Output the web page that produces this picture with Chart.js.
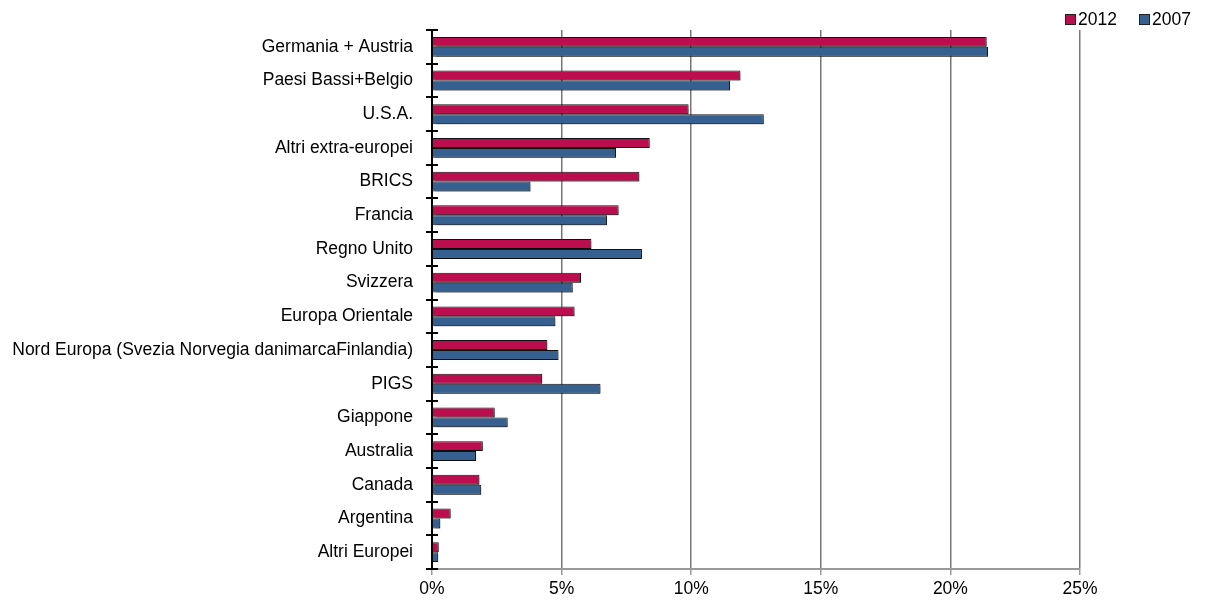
<!DOCTYPE html>
<html>
<head>
<meta charset="utf-8">
<script src="https://cdn.jsdelivr.net/npm/chart.js@4"></script>
<style>
  html, body { margin: 0; padding: 0; background: #fff; }
  #wrap { position: relative; width: 1208px; height: 607px; }
  #legend { position: absolute; top: 9px; left: 1065px; display: flex; gap: 22px;
    font-family: "Liberation Sans", Arial, sans-serif; font-size: 17.5px; color: #000; }
  #legend span.item { display: flex; align-items: center; }
  #legend span.box { display: inline-block; width: 9px; height: 9px; border: 1px solid #222; margin-right: 2px; }
</style>
</head>
<body>
<div id="wrap">
  <canvas id="chart" width="1208" height="607"></canvas>
  <div id="legend"></div>
</div>
<script>
// Data
const categories = [
    'Germania + Austria', 'Paesi Bassi+Belgio', 'U.S.A.', 'Altri extra-europei', 'BRICS',
    'Francia', 'Regno Unito', 'Svizzera', 'Europa Orientale',
    'Nord Europa (Svezia Norvegia danimarcaFinlandia)', 'PIGS', 'Giappone', 'Australia',
    'Canada', 'Argentina', 'Altri Europei'
];
const values2012 = [21.4, 11.9, 9.9, 8.4, 8.0, 7.2, 6.15, 5.75, 5.5, 4.45, 4.25, 2.42, 1.96, 1.83, 0.72, 0.26];
const values2007 = [21.45, 11.5, 12.8, 7.1, 3.8, 6.75, 8.1, 5.43, 4.76, 4.88, 6.5, 2.92, 1.7, 1.9, 0.32, 0.24];
const seriesNames = ['2012', '2007'];
const seriesColors = ['#bc0d4e', '#35608f'];
const xTicks = [0, 5, 10, 15, 20, 25];

const labelFont = { family: '"Liberation Sans", Arial, sans-serif', size: 17.5 };

// Legend (HTML)
const legendEl = document.getElementById('legend');
seriesNames.forEach((name, i) => {
    legendEl.innerHTML += `<span class="item"><span class="box" style="background:${seriesColors[i]}"></span>${name}</span>`;
});

// Bar shadow + inner half of the category tick marks
const extrasPlugin = {
    id: 'extras',
    beforeDatasetsDraw(chart) {
        const ctx = chart.ctx;
        ctx.save();
        ctx.shadowColor = 'rgba(0,0,0,0.3)';
        ctx.shadowOffsetX = 2;
        ctx.shadowOffsetY = 2;
        ctx.shadowBlur = 1;
    },
    afterDatasetsDraw(chart) {
        chart.ctx.restore();
    },
    afterDraw(chart) {
        const ctx = chart.ctx;
        const y = chart.scales.y;
        const n = categories.length;
        const step = (y.bottom - y.top) / n;
        ctx.save();
        ctx.strokeStyle = '#000';
        ctx.lineWidth = 2;
        ctx.beginPath();
        for (let i = 0; i <= n; i++) {
            const py = Math.round(y.top + i * step);
            ctx.moveTo(y.right, py);
            ctx.lineTo(y.right + 6, py);
        }
        ctx.stroke();
        ctx.restore();
    }
};

new Chart(document.getElementById('chart').getContext('2d'), {
    type: 'bar',
    data: {
        labels: categories,
        datasets: [
            { label: seriesNames[0], data: values2012, backgroundColor: seriesColors[0], borderColor: '#111', borderWidth: 1 },
            { label: seriesNames[1], data: values2007, backgroundColor: seriesColors[1], borderColor: '#111', borderWidth: 1 }
        ]
    },
    options: {
        indexAxis: 'y',
        responsive: false,
        animation: false,
        categoryPercentage: 0.59,
        barPercentage: 1.0,
        layout: { padding: { top: 30, right: 128, bottom: 0, left: 0 } },
        plugins: {
            legend: { display: false },
            tooltip: { enabled: false }
        },
        scales: {
            x: {
                min: 0,
                max: 25,
                afterBuildTicks: (scale) => { scale.ticks = xTicks.map(v => ({ value: v })); },
                afterFit: (scale) => { scale.height = 38; },
                border: { color: '#999', width: 2 },
                grid: {
                    color: (c) => c.tick && c.tick.value === 0 ? 'rgba(0,0,0,0)' : '#777',
                    tickColor: '#999',
                    tickLength: 6,
                    lineWidth: 1.5
                },
                ticks: {
                    color: '#000',
                    font: labelFont,
                    padding: 4,
                    callback: (v) => v + '%'
                }
            },
            y: {
                afterFit: (scale) => { scale.width = 432; },
                border: { color: '#000', width: 2 },
                grid: {
                    drawOnChartArea: false,
                    color: '#000',
                    tickLength: 6,
                    lineWidth: 2
                },
                ticks: {
                    color: '#000',
                    font: labelFont,
                    padding: 13
                }
            }
        }
    },
    plugins: [extrasPlugin]
});
</script>
</body>
</html>
